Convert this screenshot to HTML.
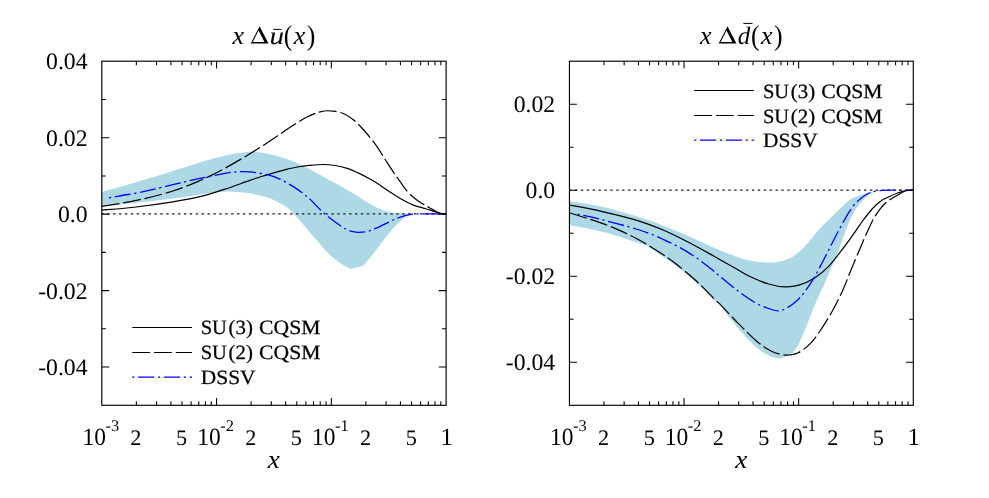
<!DOCTYPE html>
<html><head><meta charset="utf-8"><title>x Delta ubar, x Delta dbar</title>
<style>
html,body{margin:0;padding:0;background:#fff;}
body{width:989px;height:498px;overflow:hidden;font-family:"Liberation Serif",serif;}
svg{display:block;will-change:transform}
text{text-rendering:geometricPrecision}
.tk{font-family:"Liberation Serif",serif;font-size:23.7px;fill:#000}
.sp{font-family:"Liberation Serif",serif;font-size:16.4px;fill:#000}
.bg{font-family:"Liberation Serif",serif;font-size:24.8px;fill:#000}
.sm{font-family:"Liberation Serif",serif;font-size:22.2px;fill:#000}
.lg{font-family:"Liberation Serif",serif;font-size:20.3px;fill:#000;stroke:#000;stroke-width:0.25px}
.it{font-family:"Liberation Serif",serif;font-style:italic;fill:#000}
.rm{font-family:"Liberation Serif",serif;fill:#000}
.k{fill:none;stroke:#000;stroke-width:1.2}
.b{fill:none;stroke:#0000ff;stroke-width:1.3}
.band{fill:#add8e6;stroke:none}
.dot{fill:none;stroke:#1a1a1a;stroke-width:1.25;stroke-dasharray:2.4 3.5;stroke-dashoffset:0.5}
</style></head><body>
<svg width="989" height="498" viewBox="0 0 989 498">
<rect width="989" height="498" fill="#fff"/>
<!-- left panel -->
<path class="band" d="M101.8,191.9 C107.6,190.3 124.6,185.7 136.4,182.2 C148.2,178.7 160.7,174.7 172.8,170.9 C184.9,167.2 200.1,162.4 209.2,159.7 C218.3,157.0 221.3,156.2 227.4,154.9 C233.5,153.7 241.1,152.7 245.6,152.2 C250.1,151.7 251.7,151.8 254.7,151.9 C257.7,152.0 260.5,152.4 263.8,153.0 C267.1,153.6 270.5,154.2 274.3,155.2 C278.1,156.2 282.4,157.4 286.4,158.8 C290.4,160.2 294.4,161.9 298.5,163.7 C302.6,165.5 306.6,167.6 310.7,169.7 C314.8,171.8 318.8,174.2 322.8,176.4 C326.8,178.6 330.8,180.8 334.9,183.1 C338.9,185.3 343.1,187.6 347.1,189.9 C351.2,192.2 356.3,195.2 359.2,197.0 C362.1,198.8 361.4,198.8 364.3,200.6 C367.2,202.4 372.4,205.7 376.4,207.6 C380.4,209.5 384.9,210.9 388.5,211.9 C392.1,212.9 394.6,213.0 398.2,213.3 C401.8,213.6 408.0,213.8 410.0,213.9 L412.0,214.2 C410.8,214.8 407.1,216.1 404.7,217.7 C402.3,219.3 399.6,221.6 397.4,223.7 C395.2,225.8 393.7,227.5 391.6,230.0 C389.5,232.5 387.6,235.0 384.9,238.5 C382.2,242.0 378.0,247.6 375.2,251.2 C372.4,254.8 369.9,257.9 367.9,260.3 C365.9,262.7 363.9,264.9 363.1,265.8 L351.0,269.1 C349.8,268.5 346.1,266.9 343.7,265.4 C341.3,263.9 339.0,262.4 336.4,260.3 C333.8,258.2 330.9,256.1 327.9,253.1 C324.9,250.1 321.8,246.2 318.2,242.1 C314.6,237.9 309.9,232.3 306.4,228.2 C302.9,224.1 300.3,221.0 297.3,217.7 C294.3,214.4 291.2,210.7 288.2,208.2 C285.2,205.7 282.1,204.5 279.1,202.8 C276.1,201.1 272.6,199.3 270.0,198.2 C267.4,197.1 267.9,197.3 263.8,196.4 C259.7,195.5 251.7,193.6 245.6,192.8 C239.5,192.0 233.5,191.4 227.4,191.5 C221.3,191.6 215.3,192.5 209.2,193.3 C203.1,194.1 197.1,195.2 191.0,196.1 C184.9,197.0 181.9,197.5 172.8,198.6 C163.7,199.7 148.2,201.6 136.4,202.8 C124.6,204.0 107.6,205.4 101.8,205.9 Z"/>
<path class="dot" d="M101.8,213.9 H446.1"/>
<path class="k" d="M101.8,210.1 C107.6,209.6 124.6,208.4 136.4,207.0 C148.2,205.6 162.2,203.6 172.8,201.9 C183.4,200.2 191.4,198.8 200.0,196.7 C208.6,194.6 216.2,192.0 224.3,189.4 C232.4,186.8 242.4,183.0 248.5,180.9 C254.6,178.8 256.6,178.0 260.7,176.7 C264.8,175.4 268.8,174.2 272.8,173.1 C276.8,171.9 280.8,170.8 284.9,169.8 C288.9,168.8 293.1,167.7 297.1,167.0 C301.2,166.3 304.9,165.8 309.2,165.4 C313.5,165.0 318.5,164.5 322.8,164.5 C327.1,164.5 330.8,164.8 334.9,165.5 C338.9,166.2 343.1,167.1 347.1,168.4 C351.2,169.7 355.4,171.6 359.2,173.4 C363.0,175.2 367.1,177.4 370.0,179.0 C372.9,180.6 373.3,180.8 376.4,182.8 C379.5,184.8 384.4,188.2 388.5,190.9 C392.6,193.6 396.6,196.5 400.7,198.8 C404.8,201.1 408.8,203.3 412.8,204.9 C416.8,206.5 421.3,207.4 424.9,208.5 C428.5,209.6 432.0,210.8 434.6,211.6 C437.2,212.4 438.8,213.1 440.7,213.5 C442.6,213.9 445.2,213.8 446.1,213.9"/>
<path class="k" stroke-dasharray="17.95 3.8" d="M101.8,206.4 C107.6,205.4 124.6,203.0 136.4,200.4 C148.2,197.8 160.7,195.0 172.8,191.0 C184.9,187.0 197.1,182.2 209.2,176.4 C221.3,170.6 235.5,162.3 245.6,156.4 C255.7,150.5 262.9,145.6 270.0,141.0 C277.1,136.4 282.1,132.5 288.2,128.6 C294.3,124.6 301.2,120.0 306.4,117.3 C311.5,114.6 315.2,113.3 319.1,112.2 C323.1,111.1 326.2,110.6 330.1,110.8 C334.1,110.9 338.9,111.8 342.8,113.3 C346.7,114.8 350.1,117.0 353.7,120.0 C357.3,123.0 361.0,126.9 364.6,131.0 C368.2,135.1 372.1,139.8 375.6,144.6 C379.1,149.4 382.5,155.4 385.5,160.0 C388.5,164.6 390.9,168.4 393.4,172.1 C395.9,175.8 398.3,179.1 400.7,182.4 C403.1,185.8 405.5,189.5 407.9,192.2 C410.3,194.9 412.8,196.9 415.2,198.8 C417.6,200.7 420.1,202.2 422.5,203.7 C424.9,205.2 427.4,206.5 429.8,207.9 C432.2,209.3 435.1,211.1 437.1,212.0 C439.1,212.9 440.4,213.3 441.9,213.6 C443.4,213.9 445.4,213.8 446.1,213.9"/>
<path class="b" stroke-dasharray="16.05 3.67 2.18 3.67" stroke-dashoffset="19.75" d="M109.1,197.8 C111.2,197.4 117.5,196.3 122.0,195.5 C126.5,194.7 131.7,194.0 136.4,193.1 C141.1,192.2 143.9,191.6 150.0,190.2 C156.1,188.8 166.0,186.3 172.8,184.7 C179.6,183.1 184.9,181.8 191.0,180.4 C197.1,179.1 203.1,177.8 209.2,176.6 C215.3,175.3 222.2,173.7 227.4,172.9 C232.6,172.1 236.4,171.9 240.2,171.7 C244.0,171.5 245.3,171.4 250.0,171.9 C254.7,172.4 263.1,173.7 268.2,174.9 C273.2,176.2 276.2,177.5 280.3,179.4 C284.4,181.3 288.9,183.9 292.5,186.1 C296.1,188.3 299.2,190.5 302.2,192.8 C305.2,195.1 307.0,196.4 310.7,199.9 C314.4,203.4 319.2,209.1 324.6,213.7 C330.0,218.3 338.2,224.4 342.8,227.3 C347.4,230.2 349.2,230.5 351.9,231.3 C354.6,232.2 356.5,232.4 359.2,232.4 C361.9,232.4 365.0,232.2 368.3,231.3 C371.6,230.4 374.4,229.0 379.2,226.8 C384.0,224.6 391.9,220.3 397.4,218.2 C402.9,216.1 407.4,214.9 412.0,214.2 C416.6,213.5 419.0,213.9 424.7,213.9 C430.4,213.9 442.5,213.9 446.1,213.9"/>
<rect x="101.80" y="61.20" width="344.30" height="344.10" fill="none" stroke="#000" stroke-width="1.15"/>
<path d="M136.35,405.30 v-4.1 M136.35,61.20 v4.1 M156.56,405.30 v-4.1 M156.56,61.20 v4.1 M170.90,405.30 v-4.1 M170.90,61.20 v4.1 M182.02,405.30 v-4.1 M182.02,61.20 v4.1 M191.11,405.30 v-4.1 M191.11,61.20 v4.1 M198.79,405.30 v-4.1 M198.79,61.20 v4.1 M205.44,405.30 v-4.1 M205.44,61.20 v4.1 M211.32,405.30 v-4.1 M211.32,61.20 v4.1 M216.57,405.30 v-7.4 M216.57,61.20 v7.4 M251.11,405.30 v-4.1 M251.11,61.20 v4.1 M271.32,405.30 v-4.1 M271.32,61.20 v4.1 M285.66,405.30 v-4.1 M285.66,61.20 v4.1 M296.79,405.30 v-4.1 M296.79,61.20 v4.1 M305.87,405.30 v-4.1 M305.87,61.20 v4.1 M313.56,405.30 v-4.1 M313.56,61.20 v4.1 M320.21,405.30 v-4.1 M320.21,61.20 v4.1 M326.08,405.30 v-4.1 M326.08,61.20 v4.1 M331.33,405.30 v-7.4 M331.33,61.20 v7.4 M365.88,405.30 v-4.1 M365.88,61.20 v4.1 M386.09,405.30 v-4.1 M386.09,61.20 v4.1 M400.43,405.30 v-4.1 M400.43,61.20 v4.1 M411.55,405.30 v-4.1 M411.55,61.20 v4.1 M420.64,405.30 v-4.1 M420.64,61.20 v4.1 M428.32,405.30 v-4.1 M428.32,61.20 v4.1 M434.98,405.30 v-4.1 M434.98,61.20 v4.1 M440.85,405.30 v-4.1 M440.85,61.20 v4.1 M101.80,99.43 h4.1 M446.10,99.43 h-4.1 M101.80,137.67 h7.4 M446.10,137.67 h-7.4 M101.80,175.90 h4.1 M446.10,175.90 h-4.1 M101.80,214.13 h7.4 M446.10,214.13 h-7.4 M101.80,252.37 h4.1 M446.10,252.37 h-4.1 M101.80,290.60 h7.4 M446.10,290.60 h-7.4 M101.80,328.83 h4.1 M446.10,328.83 h-4.1 M101.80,367.07 h7.4 M446.10,367.07 h-7.4" fill="none" stroke="#000" stroke-width="1.05"/>
<text x="87.5" y="69.3" text-anchor="end" class="tk">0.04</text>
<text x="87.5" y="145.8" text-anchor="end" class="tk">0.02</text>
<text x="87.5" y="222.2" text-anchor="end" class="tk">0.0</text>
<text x="87.5" y="298.7" text-anchor="end" class="tk">-0.02</text>
<text x="87.5" y="375.2" text-anchor="end" class="tk">-0.04</text>
<text x="82.4" y="444.85" class="bg" textLength="23.5" lengthAdjust="spacingAndGlyphs">10</text><text x="105.5" y="431.0" class="sp">-3</text>
<text x="197.2" y="444.85" class="bg" textLength="23.5" lengthAdjust="spacingAndGlyphs">10</text><text x="220.2" y="431.0" class="sp">-2</text>
<text x="311.9" y="444.85" class="bg" textLength="23.5" lengthAdjust="spacingAndGlyphs">10</text><text x="335.0" y="431.0" class="sp">-1</text>
<text x="135.9" y="444.85" text-anchor="middle" class="sm">2</text>
<text x="181.6" y="444.85" text-anchor="middle" class="sm">5</text>
<text x="250.7" y="444.85" text-anchor="middle" class="sm">2</text>
<text x="296.4" y="444.85" text-anchor="middle" class="sm">5</text>
<text x="365.5" y="444.85" text-anchor="middle" class="sm">2</text>
<text x="411.2" y="444.85" text-anchor="middle" class="sm">5</text>
<text x="446.6" y="444.85" text-anchor="middle" class="bg">1</text>
<text x="267.75" y="467.7" class="it" font-size="26" textLength="12.1" lengthAdjust="spacingAndGlyphs">x</text>
<path d="M132.2,327.5 H192.0" class="k"/>
<path d="M132.2,352.5 H192.0" class="k" stroke-dasharray="17.95 3.8"/>
<path d="M132.2,377.2 H192.0" class="b" stroke-dasharray="16.2 3.7 2.2 3.7" stroke-dashoffset="19.9"/>
<text x="200.7" y="334.4" class="lg" textLength="26.2" lengthAdjust="spacingAndGlyphs">SU</text>
<text x="228.6" y="334.4" class="lg" textLength="24.3" lengthAdjust="spacingAndGlyphs">(3)</text>
<text x="259.1" y="334.4" class="lg" textLength="61.3" lengthAdjust="spacingAndGlyphs">CQSM</text>
<text x="200.7" y="359.3" class="lg" textLength="26.2" lengthAdjust="spacingAndGlyphs">SU</text>
<text x="228.6" y="359.3" class="lg" textLength="24.3" lengthAdjust="spacingAndGlyphs">(2)</text>
<text x="259.1" y="359.3" class="lg" textLength="61.3" lengthAdjust="spacingAndGlyphs">CQSM</text>
<text x="200.7" y="384.3" class="lg" textLength="54.9" lengthAdjust="spacingAndGlyphs">DSSV</text>
<text x="232.40" y="43.7" class="it" font-size="26">x</text>
<path fill="#000" fill-rule="evenodd" d="M250.75,43.45 L259.60,26.35 L268.50,43.45 Z M252.75,42.0 L264.45,42.0 L258.60,30.6 Z"/>
<g transform="translate(271.00,43.7) scale(1.170,1)"><text x="-1.25" y="0" class="it" font-size="25">u</text></g>
<path d="M273.3,29.4 H281.5" stroke="#000" stroke-width="1" fill="none"/>
<g transform="translate(284.80,44.85) scale(0.9,1)"><text x="-1.29" y="0" class="rm" font-size="28.6">(</text></g>
<text x="293.65" y="43.7" class="it" font-size="26">x</text>
<g transform="translate(307.50,44.85) scale(0.9,1)"><text x="-0.86" y="0" class="rm" font-size="28.6">)</text></g>
<!-- right panel -->
<path class="band" d="M569.5,201.2 C574.8,202.1 589.6,203.9 601.4,206.6 C613.1,209.3 629.5,214.2 640.0,217.4 C650.5,220.6 656.2,222.8 664.3,225.9 C672.4,229.0 680.4,232.6 688.5,236.2 C696.6,239.8 704.7,243.8 712.8,247.2 C720.9,250.6 730.7,254.6 737.1,256.9 C743.5,259.2 746.9,259.9 751.0,260.8 C755.1,261.7 757.6,262.1 761.9,262.3 C766.1,262.5 772.1,262.7 776.5,262.2 C780.9,261.7 784.9,260.3 788.0,259.1 C791.1,257.9 793.0,256.4 795.2,254.9 C797.4,253.4 798.5,252.8 801.3,250.0 C804.1,247.2 809.3,241.2 812.1,237.9 C814.9,234.6 814.9,233.9 818.3,230.3 C821.7,226.7 827.8,220.7 832.5,216.1 C837.2,211.5 843.3,205.5 846.6,202.6 C849.9,199.7 849.9,199.7 852.3,198.4 C854.7,197.1 858.0,195.9 860.8,194.9 C863.6,193.9 866.4,193.2 869.3,192.5 C872.2,191.8 876.5,190.9 878.0,190.6 L879.2,190.6 C878.5,190.8 876.8,190.8 874.9,191.6 C873.0,192.4 870.2,193.8 867.9,195.6 C865.5,197.4 863.2,199.8 860.8,202.6 C858.4,205.4 856.1,208.3 853.7,212.6 C851.3,216.8 849.1,221.9 846.6,228.1 C844.1,234.3 841.1,244.1 838.8,250.0 C836.5,255.9 835.4,257.8 832.9,263.7 C830.4,269.6 825.9,280.7 823.8,285.5 C821.7,290.3 821.9,288.6 820.1,292.7 C818.3,296.8 815.2,304.1 812.8,310.0 C810.4,315.9 808.0,322.4 805.6,328.2 C803.2,334.0 800.4,340.5 798.3,344.6 C796.2,348.7 793.7,351.4 792.8,352.8 L781.9,358.3 C780.1,358.0 775.2,358.2 771.0,356.4 C766.8,354.6 761.9,352.0 756.4,347.3 C750.9,342.6 744.3,335.2 738.2,328.2 C732.1,321.2 723.9,310.1 720.0,305.5 C716.1,300.9 718.5,304.2 714.6,300.5 C710.7,296.8 703.1,289.0 696.4,283.0 C689.7,277.0 680.9,269.8 674.2,264.6 C667.5,259.4 660.5,255.0 656.0,251.9 C651.5,248.8 649.9,247.4 646.9,245.9 C643.9,244.4 642.3,244.3 637.8,242.8 C633.2,241.3 625.7,238.7 619.6,236.8 C613.5,234.9 609.8,233.4 601.4,231.5 C593.0,229.6 574.8,226.2 569.5,225.1 Z"/>
<path class="dot" d="M569.5,190.2 H913.3"/>
<path class="k" d="M569.5,205.1 C574.8,206.1 590.0,208.7 601.4,211.3 C612.8,213.9 627.3,217.4 637.8,220.6 C648.3,223.8 655.8,226.9 664.3,230.5 C672.8,234.1 680.4,238.1 688.5,242.3 C696.6,246.5 704.7,251.1 712.8,255.6 C720.9,260.1 730.7,265.7 737.1,269.3 C743.5,272.9 745.8,274.6 751.0,277.0 C756.2,279.4 763.0,282.4 768.5,284.0 C774.0,285.6 779.2,286.7 784.3,286.9 C789.4,287.1 793.8,286.7 798.9,285.2 C804.0,283.7 809.5,281.1 814.6,277.9 C819.7,274.7 825.0,270.1 829.2,265.8 C833.4,261.6 835.9,257.7 840.0,252.4 C844.1,247.1 849.8,239.3 853.7,233.8 C857.6,228.3 860.5,223.7 863.6,219.6 C866.7,215.5 869.3,212.1 872.1,209.0 C874.9,205.9 877.8,203.2 880.6,201.2 C883.4,199.1 886.3,198.1 889.1,196.7 C891.9,195.3 894.8,194.0 897.6,193.0 C900.4,192.0 903.5,191.1 906.1,190.6 C908.7,190.1 912.1,190.3 913.3,190.2"/>
<path class="k" stroke-dasharray="17.95 3.8" d="M569.5,212.8 C574.8,214.5 593.0,220.2 601.4,223.1 C609.8,226.0 613.5,227.7 619.6,230.4 C625.7,233.1 631.7,235.9 637.8,239.2 C643.9,242.5 649.9,246.2 656.0,250.1 C662.1,254.0 667.5,257.4 674.2,262.5 C680.9,267.6 689.7,274.9 696.4,281.0 C703.1,287.1 710.7,295.3 714.6,299.2 C718.5,303.1 716.1,300.2 720.0,304.2 C723.9,308.2 732.1,317.2 738.2,323.3 C744.3,329.4 750.9,336.4 756.4,341.0 C761.9,345.6 766.8,348.7 771.0,351.0 C775.2,353.3 778.9,353.9 781.9,354.6 C784.9,355.3 786.5,355.3 789.2,355.0 C791.9,354.7 794.7,354.8 798.3,352.8 C801.9,350.8 807.1,346.9 811.0,342.8 C814.9,338.7 818.2,333.7 821.9,328.2 C825.5,322.7 829.4,316.4 832.9,310.0 C836.4,303.6 839.9,296.7 842.9,290.0 C845.9,283.3 848.2,276.7 851.0,270.0 C853.8,263.3 856.8,256.0 859.4,250.0 C862.0,244.0 864.0,239.0 866.4,233.8 C868.8,228.6 871.1,223.2 873.5,218.9 C875.9,214.7 878.2,211.2 880.6,208.3 C883.0,205.4 885.3,203.1 887.7,201.2 C890.1,199.3 892.4,198.1 894.8,196.7 C897.1,195.3 899.7,193.7 901.8,192.7 C903.9,191.7 905.6,191.0 907.5,190.6 C909.4,190.2 912.3,190.3 913.3,190.2"/>
<path class="b" stroke-dasharray="16.05 3.67 2.18 3.67" stroke-dashoffset="19.75" d="M577.7,214.2 C581.7,215.1 591.4,216.9 601.4,219.5 C611.4,222.1 628.7,226.7 637.8,229.5 C646.9,232.3 651.6,234.4 656.0,236.1 C660.4,237.8 661.3,238.5 664.3,239.9 C667.3,241.3 670.2,242.5 674.2,244.6 C678.2,246.7 684.2,250.0 688.5,252.6 C692.8,255.2 696.0,257.5 700.0,260.4 C704.0,263.3 709.8,267.8 712.8,270.2 C715.8,272.6 714.4,271.7 717.7,274.5 C721.0,277.3 728.4,283.5 732.8,287.0 C737.2,290.5 740.4,292.8 744.3,295.5 C748.2,298.2 752.4,301.2 756.4,303.4 C760.4,305.5 764.9,307.1 768.5,308.4 C772.1,309.6 775.1,311.1 778.3,310.9 C781.5,310.7 784.7,309.2 787.9,307.4 C791.1,305.6 794.8,302.5 797.6,299.9 C800.4,297.3 802.3,295.1 804.9,291.6 C807.5,288.1 810.6,283.5 813.4,278.8 C816.2,274.1 819.4,268.0 821.9,263.2 C824.4,258.4 826.1,255.0 828.6,250.2 C831.1,245.4 833.7,239.9 836.7,234.2 C839.7,228.5 843.8,220.9 846.6,216.1 C849.4,211.3 851.3,208.4 853.7,205.5 C856.1,202.6 858.2,200.5 860.8,198.4 C863.4,196.3 866.5,194.3 869.3,193.0 C872.1,191.7 874.5,191.3 877.8,190.8 C881.1,190.3 883.2,190.3 889.1,190.2 C895.0,190.1 909.3,190.2 913.3,190.2"/>
<rect x="569.45" y="61.20" width="343.85" height="344.10" fill="none" stroke="#000" stroke-width="1.15"/>
<path d="M603.95,405.30 v-4.1 M603.95,61.20 v4.1 M624.14,405.30 v-4.1 M624.14,61.20 v4.1 M638.46,405.30 v-4.1 M638.46,61.20 v4.1 M649.56,405.30 v-4.1 M649.56,61.20 v4.1 M658.64,405.30 v-4.1 M658.64,61.20 v4.1 M666.31,405.30 v-4.1 M666.31,61.20 v4.1 M672.96,405.30 v-4.1 M672.96,61.20 v4.1 M678.82,405.30 v-4.1 M678.82,61.20 v4.1 M684.07,405.30 v-7.4 M684.07,61.20 v7.4 M718.57,405.30 v-4.1 M718.57,61.20 v4.1 M738.75,405.30 v-4.1 M738.75,61.20 v4.1 M753.07,405.30 v-4.1 M753.07,61.20 v4.1 M764.18,405.30 v-4.1 M764.18,61.20 v4.1 M773.26,405.30 v-4.1 M773.26,61.20 v4.1 M780.93,405.30 v-4.1 M780.93,61.20 v4.1 M787.58,405.30 v-4.1 M787.58,61.20 v4.1 M793.44,405.30 v-4.1 M793.44,61.20 v4.1 M798.68,405.30 v-7.4 M798.68,61.20 v7.4 M833.19,405.30 v-4.1 M833.19,61.20 v4.1 M853.37,405.30 v-4.1 M853.37,61.20 v4.1 M867.69,405.30 v-4.1 M867.69,61.20 v4.1 M878.80,405.30 v-4.1 M878.80,61.20 v4.1 M887.87,405.30 v-4.1 M887.87,61.20 v4.1 M895.55,405.30 v-4.1 M895.55,61.20 v4.1 M902.19,405.30 v-4.1 M902.19,61.20 v4.1 M908.06,405.30 v-4.1 M908.06,61.20 v4.1 M569.45,104.21 h7.4 M913.30,104.21 h-7.4 M569.45,147.23 h4.1 M913.30,147.23 h-4.1 M569.45,190.24 h7.4 M913.30,190.24 h-7.4 M569.45,233.25 h4.1 M913.30,233.25 h-4.1 M569.45,276.26 h7.4 M913.30,276.26 h-7.4 M569.45,319.28 h4.1 M913.30,319.28 h-4.1 M569.45,362.29 h7.4 M913.30,362.29 h-7.4" fill="none" stroke="#000" stroke-width="1.05"/>
<text x="555.2" y="112.3" text-anchor="end" class="tk">0.02</text>
<text x="555.2" y="198.3" text-anchor="end" class="tk">0.0</text>
<text x="555.2" y="284.4" text-anchor="end" class="tk">-0.02</text>
<text x="555.2" y="370.4" text-anchor="end" class="tk">-0.04</text>
<text x="550.1" y="444.85" class="bg" textLength="23.5" lengthAdjust="spacingAndGlyphs">10</text><text x="573.1" y="431.0" class="sp">-3</text>
<text x="664.7" y="444.85" class="bg" textLength="23.5" lengthAdjust="spacingAndGlyphs">10</text><text x="687.7" y="431.0" class="sp">-2</text>
<text x="779.3" y="444.85" class="bg" textLength="23.5" lengthAdjust="spacingAndGlyphs">10</text><text x="802.3" y="431.0" class="sp">-1</text>
<text x="603.6" y="444.85" text-anchor="middle" class="sm">2</text>
<text x="649.2" y="444.85" text-anchor="middle" class="sm">5</text>
<text x="718.2" y="444.85" text-anchor="middle" class="sm">2</text>
<text x="763.8" y="444.85" text-anchor="middle" class="sm">5</text>
<text x="832.8" y="444.85" text-anchor="middle" class="sm">2</text>
<text x="878.4" y="444.85" text-anchor="middle" class="sm">5</text>
<text x="913.8" y="444.85" text-anchor="middle" class="bg">1</text>
<text x="735.17" y="467.7" class="it" font-size="26" textLength="12.1" lengthAdjust="spacingAndGlyphs">x</text>
<path d="M694.1,90.5 H753.9" class="k"/>
<path d="M694.1,115.5 H753.9" class="k" stroke-dasharray="17.95 3.8"/>
<path d="M694.1,140.2 H753.9" class="b" stroke-dasharray="16.2 3.7 2.2 3.7" stroke-dashoffset="19.9"/>
<text x="762.9" y="97.5" class="lg" textLength="26.2" lengthAdjust="spacingAndGlyphs">SU</text>
<text x="790.8" y="97.5" class="lg" textLength="24.3" lengthAdjust="spacingAndGlyphs">(3)</text>
<text x="821.3" y="97.5" class="lg" textLength="61.3" lengthAdjust="spacingAndGlyphs">CQSM</text>
<text x="762.9" y="122.5" class="lg" textLength="26.2" lengthAdjust="spacingAndGlyphs">SU</text>
<text x="790.8" y="122.5" class="lg" textLength="24.3" lengthAdjust="spacingAndGlyphs">(2)</text>
<text x="821.3" y="122.5" class="lg" textLength="61.3" lengthAdjust="spacingAndGlyphs">CQSM</text>
<text x="762.9" y="147.4" class="lg" textLength="54.9" lengthAdjust="spacingAndGlyphs">DSSV</text>
<text x="700.00" y="43.7" class="it" font-size="26">x</text>
<path fill="#000" fill-rule="evenodd" d="M718.65,43.45 L727.50,26.35 L736.40,43.45 Z M720.65,42.0 L732.35,42.0 L726.50,30.6 Z"/>
<g transform="translate(738.55,43.7) scale(1.000,1)"><text x="-0.75" y="0" class="it" font-size="25">d</text></g>
<path d="M743.3,23.4 H752.5" stroke="#000" stroke-width="1" fill="none"/>
<g transform="translate(752.10,44.85) scale(0.9,1)"><text x="-1.29" y="0" class="rm" font-size="28.6">(</text></g>
<text x="760.95" y="43.7" class="it" font-size="26">x</text>
<g transform="translate(774.80,44.85) scale(0.9,1)"><text x="-0.86" y="0" class="rm" font-size="28.6">)</text></g>
</svg></body></html>
